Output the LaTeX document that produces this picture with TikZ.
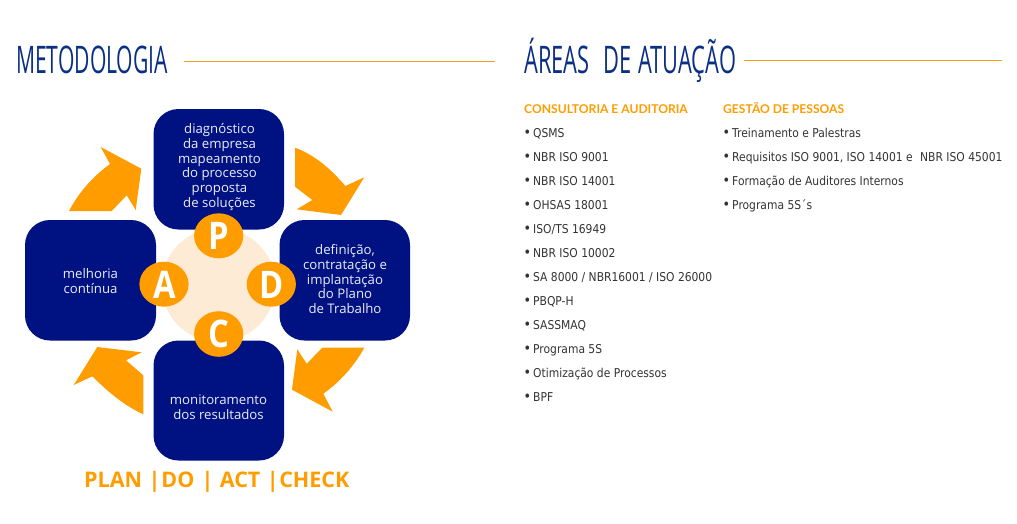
\documentclass[tikz,border=0pt]{standalone}
\usepackage{fontspec}
\setmainfont{Open Sans}
\newfontfamily\headfont[FakeStretch=0.575]{Open Sans}
\newfontfamily\headnarrow[FakeStretch=0.555]{Open Sans}
\newfontfamily\letterfont[FakeStretch=0.86]{Open Sans}
\newfontfamily\listfont[FakeStretch=0.88]{DejaVu Sans}
\newfontfamily\subfont{Lato}
\definecolor{navy}{HTML}{001181}
\definecolor{heading}{HTML}{0A2F85}
\definecolor{orange}{HTML}{FF9C00}
\definecolor{rulecol}{HTML}{F0A020}
\definecolor{peach}{HTML}{FDEBD6}
\definecolor{listcol}{HTML}{333333}
\tikzset{
  card/.style={fill=navy,draw=none,rounded corners=25pt},
  cardtext/.style={text=white!92!navy,font=\fontsize{13.2}{14.7}\selectfont,align=center,inner sep=0pt},
  flow/.style={fill=orange,draw=none},
  letter/.style={text=white,font=\letterfont\fontsize{38}{38}\selectfont\bfseries,inner sep=0pt},
  title/.style={text=heading,font=\headfont\fontsize{38}{38}\selectfont,anchor=base west,inner sep=0pt},
  titlerule/.style={draw=rulecol,line width=1pt},
  subhead/.style={text=orange,font=\subfont\bfseries\fontsize{12.1}{12.1}\selectfont,anchor=base west,inner sep=0pt},
  item/.style={text=listcol,font=\listfont\fontsize{12.2}{12.2}\selectfont,anchor=base west,inner sep=0pt},
  dot/.style={text=listcol,font=\listfont\fontsize{14.5}{14.5}\selectfont,anchor=base west,inner sep=0pt}
}
\begin{document}
\begin{tikzpicture}[x=1pt,y=-1pt]
\useasboundingbox (0,0) rectangle (1017,523);
% titles
\node[title,font=\headnarrow\fontsize{38}{38}\selectfont] (t1) at (16,73.3) {METODOLOGIA};
\node[title] (t2) at (524,73.8) {ÁREAS\hspace{8.5pt} DE\hspace{1pt} ATUAÇÃO};
\coordinate (r1a) at (184,61.5); \coordinate (r1b) at (495,61.5);
\coordinate (r2a) at (744,60.5); \coordinate (r2b) at (1002,60.5);
\draw[titlerule] (r1a) -- (r1b);
\draw[titlerule] (r2a) -- (r2b);
% peach disc
\fill[peach] (218.5,285) circle (57);
% arrows
\fill[flow] (69,211) .. controls (80,190) and (95,175) .. (110,164) -- (100.7,147) -- (141.3,168.7) -- (135.7,210) -- (126.7,195.3) -- (111.7,211) -- cycle;
\fill[flow] (295,147.7) .. controls (315,155) and (332,170) .. (345.3,186) -- (364.3,177.3) -- (341,215) -- (296.7,209.3) -- (312.3,200) -- (295,186.7) -- cycle;
\fill[flow] (364.3,347.7) .. controls (355,365) and (340,382) .. (323.3,393.7) -- (332.7,411.7) -- (292,389.7) -- (297.3,349.3) -- (306.7,363.7) -- (322.3,347.7) -- cycle;
\fill[flow] (143.3,414.3) .. controls (125,406) and (108,392) .. (92.3,376.3) -- (73.7,385) -- (97.3,347) -- (141.7,352.3) -- (126,360.3) -- (143.3,375.3) -- cycle;
% cards
\fill[card] (153.5,109) rectangle (284,229.5);
\fill[card] (25,220) rectangle (156,340.5);
\fill[card] (279.5,220) rectangle (410,340.5);
\fill[card] (153.5,340.5) rectangle (284,460.5);
\node[cardtext] (cP) at (219.5,167) {diagnóstico\\da empresa\\mapeamento\\do processo\\proposta\\de soluções};
\node[cardtext] (cA) at (90.5,281) {melhoria\\contínua};
\node[cardtext] (cD) at (345,279.3) {definição,\\contratação e\\implantação\\do Plano\\de Trabalho};
\node[cardtext] (cC) at (218.5,407) {monitoramento\\dos resultados};
% letters
\fill[orange] (218.7,235.8) ellipse (24.6 and 22.5);
\fill[orange] (164,284.2) ellipse (24.6 and 22.5);
\fill[orange] (271.3,284.2) ellipse (24.6 and 22.5);
\fill[orange] (218.7,334) ellipse (24.6 and 22.8);
\node[letter] (P) at (219,236) {P};
\node[letter] (A) at (164.5,285) {A};
\node[letter] (D) at (271.5,285) {D};
\node[letter] (C) at (219,334) {C};
% PDCA strapline
\node[text=orange,font=\fontsize{21.5}{21.5}\selectfont\bfseries,anchor=base west,inner sep=0pt] (pdca) at (84,487.5) {PLAN\hspace{6.5pt}|\hspace{1pt}DO\hspace{7pt}|\hspace{6.5pt}ACT\hspace{6.5pt}|\hspace{0.5pt}CHECK};
% lists
\node[subhead] (h1) at (524,113) {CONSULTORIA E AUDITORIA};
\node[subhead] (h2) at (723,113) {GESTÃO DE PESSOAS};
\foreach \n/\t [count=\i from 0] in {a/QSMS,b/NBR ISO 9001,c/NBR ISO 14001,d/OHSAS 18001,e/{ISO/TS 16949},f/NBR ISO 10002,g/{SA 8000 / NBR16001 / ISO 26000},h/PBQP-H,i/SASSMAQ,j/Programa 5S,k/Otimização de Processos,l/BPF}{
  \node[dot] (ld\n) at (523.5,137+24*\i) {•};
  \node[item] (l\n) at (533,137+24*\i) {\t};
}
\foreach \n/\t [count=\i from 0] in {a/Treinamento e Palestras,b/{Requisitos ISO 9001, ISO 14001 e\hspace{4pt} NBR ISO 45001},c/Formação de Auditores Internos,d/Programa 5S´s}{
  \node[dot] (md\n) at (722.5,137+24*\i) {•};
  \node[item] (m\n) at (732,137+24*\i) {\t};
}
\end{tikzpicture}
\end{document}
